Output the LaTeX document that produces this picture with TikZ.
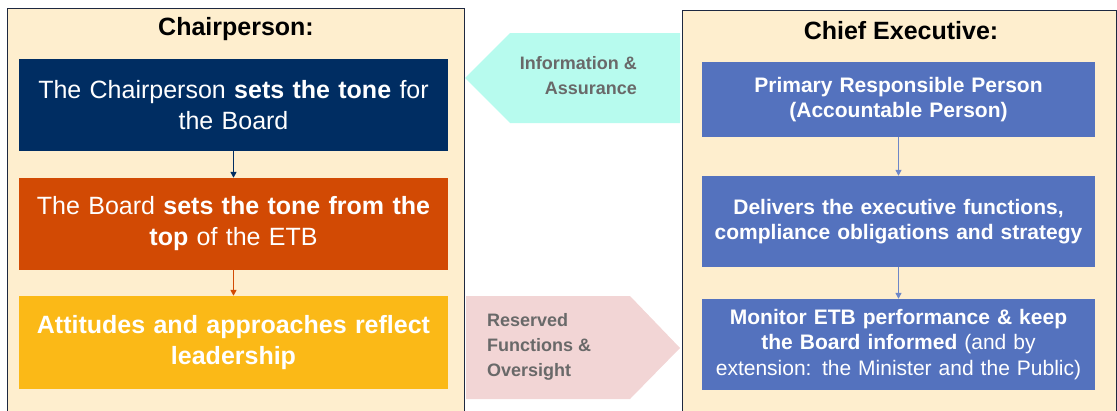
\documentclass[tikz,border=0pt]{standalone}
\usepackage{fontspec}
\setmainfont{Liberation Sans}
\usetikzlibrary{arrows.meta}
\definecolor{panelfill}{RGB}{254,238,206}
\definecolor{panelline}{RGB}{30,40,64}
\definecolor{navybox}{RGB}{0,45,98}
\definecolor{orangebox}{RGB}{210,74,4}
\definecolor{yellowbox}{RGB}{251,185,23}
\definecolor{bluebox}{RGB}{84,114,190}
\definecolor{bluearrow}{RGB}{110,135,200}
\definecolor{infofill}{RGB}{183,251,238}
\definecolor{reservedfill}{RGB}{242,213,213}
\definecolor{greytext}{RGB}{105,105,105}
\tikzset{
  panel/.style={fill=panelfill, draw=panelline, line width=0.8pt},
  leftbox/.style={rectangle, minimum width=429pt, text width=429pt, align=center,
    text=white, font=\fontsize{25}{31}\selectfont, inner sep=0pt},
  rightbox/.style={rectangle, fill=bluebox, minimum width=393pt, text width=393pt,
    align=center, text=white, font=\fontsize{21}{25.5}\selectfont\bfseries, inner sep=0pt},
  titletext/.style={font=\fontsize{25}{30}\selectfont\bfseries, text=black},
  flowtext/.style={font=\fontsize{18}{25}\selectfont\bfseries, text=greytext, inner sep=0pt},
  flow/.style={-{Triangle[length=6pt,width=6pt]}, line width=1.5pt}
}
\begin{document}
\begin{tikzpicture}[x=1pt,y=-1pt]
\useasboundingbox (0,0) rectangle (1117,410);
\begin{scope}
\clip (0,0) rectangle (1117,410);
% left panel
\draw[panel] (7,8) rectangle (464,430);
% information arrow pointing left
\fill[infofill] (465,78) -- (510,33) -- (680,33) -- (680,123) -- (510,123) -- cycle;
% reserved functions arrow pointing right
\fill[reservedfill] (466,296) -- (630,296) -- (680,348) -- (630,399) -- (466,399) -- cycle;
% right panel
\draw[panel] (682,10) rectangle (1116,430);
\end{scope}

\node[titletext] (ltitle) at (236,29) {Chairperson:};
\node[titletext] (rtitle) at (901,31) {Chief Executive:};

% chairperson column
\node[leftbox, fill=navybox, minimum height=92pt] (c1) at (233.5,105)
  {The Chairperson \textbf{sets the tone} for\\the Board};
\node[leftbox, fill=orangebox, minimum height=92pt] (c2) at (233.5,224)
  {The Board \textbf{sets the tone from the}\\\textbf{top} of the ETB};
\node[leftbox, fill=yellowbox, minimum height=93pt, font=\fontsize{25}{31}\selectfont\bfseries] (c3) at (233.5,342.5)
  {Attitudes and approaches reflect\\leadership};
\draw[flow, navybox] (c1.south) -- (c2.north);
\draw[flow, orangebox] (c2.south) -- (c3.north);

% chief executive column
\node[rightbox, minimum height=75pt] (e1) at (898.5,99.5)
  {Primary Responsible Person\\(Accountable Person)};
\node[rightbox, minimum height=91pt] (e2) at (898.5,221.5)
  {Delivers the executive functions,\\compliance obligations and strategy};
\node[rightbox, minimum height=91pt] (e3) at (898.5,344.5)
  {Monitor ETB performance \& keep\\the Board informed \mdseries(and by\\extension: the Minister and the Public)};
\draw[flow, bluearrow, line width=1.3pt] (e1.south) -- (e2.north);
\draw[flow, bluearrow, line width=1.3pt] (e2.south) -- (e3.north);

% labels on the two exchange arrows
\node[flowtext, anchor=east, align=right] (info) at (637,76)
  {Information \&\\Assurance};
\node[flowtext, anchor=west, align=left] (reserved) at (487,347)
  {Reserved\\Functions \&\\Oversight};
\end{tikzpicture}
\end{document}
